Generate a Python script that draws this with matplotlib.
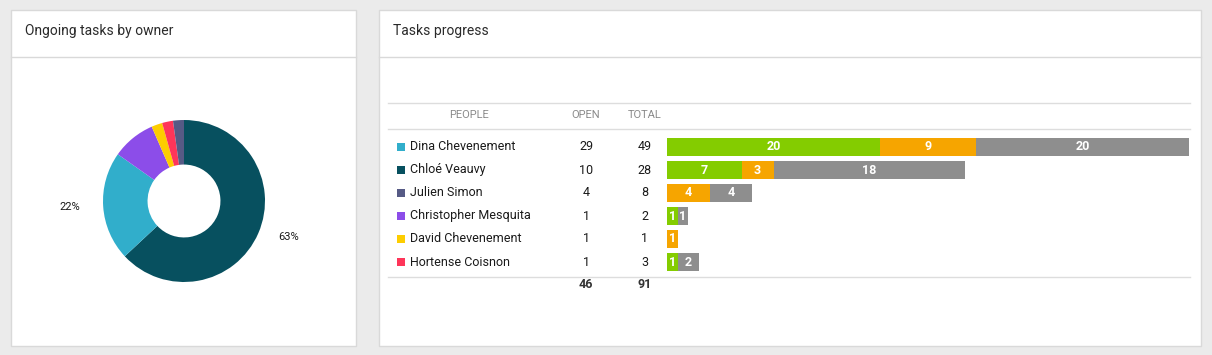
import numpy as np
import matplotlib.pyplot as plt
from matplotlib.patches import Rectangle

plt.rcParams['font.family'] = ['Roboto', 'DejaVu Sans']

# Donnees
people = ['Dina Chevenement', 'Chloé Veauvy', 'Julien Simon',
          'Christopher Mesquita', 'David Chevenement', 'Hortense Coisnon']
people_colors = ['#31aecb', '#07505f', '#565a85', '#8c4de9', '#fdcd00', '#fe3559']
open_tasks = [29, 10, 4, 1, 1, 1]
total_tasks = [49, 28, 8, 2, 1, 3]
done = [20, 7, 0, 1, 0, 1]
in_progress = [9, 3, 4, 0, 1, 0]
todo = [20, 18, 4, 1, 0, 2]

donut_values = [29, 10, 4, 1, 1, 1]
donut_colors = ['#07505f', '#31aecb', '#8c4de9', '#fdcd00', '#fe3559', '#565a85']
donut_labels = ['63%', '22%', '', '', '', '']

W, H = 1212, 355
fig = plt.figure(figsize=(W / 100, H / 100), dpi=100)
fig.patch.set_facecolor('#ebebeb')

def px_axes(x0, y0, x1, y1):
    return fig.add_axes([x0 / W, 1 - y1 / H, (x1 - x0) / W, (y1 - y0) / H])

# fond en pixels
bg = px_axes(0, 0, W, H)
bg.set_xlim(0, W); bg.set_ylim(H, 0); bg.axis('off')
for x0, x1 in [(11, 356), (379, 1201)]:
    bg.add_patch(Rectangle((x0, 10), x1 - x0, 336, facecolor='white',
                           edgecolor='#d9d9d9', lw=1))
    bg.plot([x0, x1], [57, 57], color='#d9d9d9', lw=1)
bg.text(25, 31, 'Ongoing tasks by owner', fontsize=10, color='#2a2a2a', va='center')
bg.text(393, 31, 'Tasks progress', fontsize=10, color='#2a2a2a', va='center')

# tableau
for y in [103, 129, 277]:
    bg.plot([388, 1190], [y, y], color='#dddddd', lw=1)
hdr = dict(fontsize=8, color='#8a8a8a', ha='center', va='center')
bg.text(469, 115, 'PEOPLE', **hdr)
bg.text(586, 115, 'OPEN', **hdr)
bg.text(645, 115, 'TOTAL', **hdr)
row_y = 147 + 23 * np.arange(len(people))
for i, name in enumerate(people):
    y = row_y[i]
    bg.add_patch(Rectangle((397, y - 4), 8, 8, facecolor=people_colors[i], lw=0))
    bg.text(410, y, name, fontsize=9, color='#1a1a1a', va='center')
    bg.text(586, y, str(open_tasks[i]), fontsize=9, color='#1a1a1a', ha='center', va='center')
    bg.text(645, y, str(total_tasks[i]), fontsize=9, color='#1a1a1a', ha='center', va='center')
bg.text(586, 285, str(sum(open_tasks)), fontsize=9, fontweight='bold',
        color='#333333', ha='center', va='center')
bg.text(645, 285, str(sum(total_tasks)), fontsize=9, fontweight='bold',
        color='#333333', ha='center', va='center')

# barres empilees
ax = px_axes(667, 135.5, 1189, 273.5)
ax.set_xlim(0, max(total_tasks)); ax.set_ylim(len(people) - 0.5, -0.5)
ax.axis('off')
left = np.zeros(len(people))
for vals, col in [(done, '#84cc00'), (in_progress, '#f6a500'), (todo, '#8e8e8e')]:
    bars = ax.barh(np.arange(len(people)), vals, left=left, height=0.77, color=col, lw=0)
    ax.bar_label(bars, labels=[str(v) if v else '' for v in vals], label_type='center',
                 color='white', fontsize=9, fontweight='bold')
    left += np.array(vals)

# donut
cx, cy, r = 184, 201, 81
dax = px_axes(cx - 100, cy - 100, cx + 100, cy + 100)
wedges, texts = dax.pie(donut_values, colors=donut_colors, labels=donut_labels,
                        startangle=90, counterclock=False, labeldistance=1.38,
                        wedgeprops=dict(width=0.55, lw=0),
                        textprops=dict(fontsize=8, color='#1a1a1a'))
for t in texts:
    t.set_ha('center')
    x, y = t.get_position()
    t.set_position((x * 1.02, y * 0.8))
lim = 100 / r
dax.set_xlim(-lim, lim); dax.set_ylim(-lim, lim)
dax.set_aspect('equal')

fig.savefig('out.png', dpi=100, facecolor=fig.get_facecolor())
